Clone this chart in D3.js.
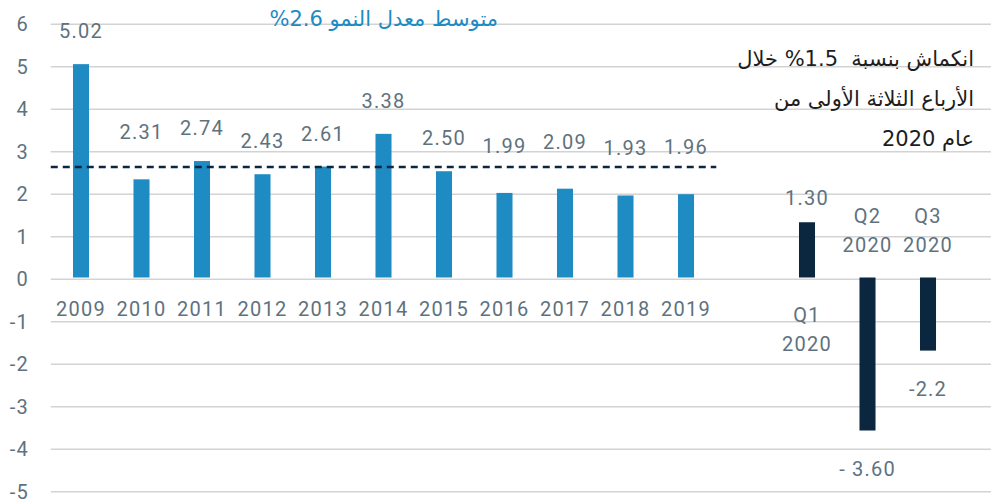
<!DOCTYPE html>
<html>
<head>
<meta charset="utf-8">
<script src="https://cdn.jsdelivr.net/npm/d3@7"></script>
<style>
  body { margin: 0; background: #fff; }
  svg { display: block; }
  .num { font-family: Roboto, sans-serif; font-size: 20px; fill: #5e727e; letter-spacing: 1.2px; }
  .ar { font-family: "DejaVu Sans", sans-serif; direction: rtl; unicode-bidi: embed; white-space: pre; }
</style>
</head>
<body>
<svg id="svg" width="991" height="501"></svg>
<script>
// annual growth 2009-2019
let years = ["2009", "2010", "2011", "2012", "2013", "2014", "2015", "2016", "2017", "2018", "2019"];
let yearValues = [5.02, 2.31, 2.74, 2.43, 2.61, 3.38, 2.50, 1.99, 2.09, 1.93, 1.96];
let yearLabels = ["5.02", "2.31", "2.74", "2.43", "2.61", "3.38", "2.50", "1.99", "2.09", "1.93", "1.96"];

// 2020 quarters
let quarters = ["Q1", "Q2", "Q3"];
let quarterValues = [1.30, -3.60, -1.72];
let quarterLabels = ["1.30", "- 3.60", "-2.2"];

let yTicks = [6, 5, 4, 3, 2, 1, 0, -1, -2, -3, -4, -5];
let average = 2.6;
let avgTitle = "متوسط معدل النمو 2.6%";
let noteLines = ["انكماش بنسبة  1.5% خلال", "الأرباع الثلاثة الأولى من", "عام 2020"];

const blue = "#1e8bc3";
const navy = "#0b2740";

let svg = d3.select("#svg");

// one slot left empty between 2019 and Q1
let slots = years.concat(["gap"], quarters);
let x = d3.scaleBand()
  .domain(slots)
  .range([50.75, 958.25])
  .paddingInner(0.735)
  .paddingOuter(0.3675);

let y = d3.scaleLinear()
  .domain([-5, 6])
  .range([490, 22.5]);

let gridOffset = 1.8;

// gridlines
svg.append("g")
  .selectAll("line")
  .data(yTicks)
  .join("line")
  .attr("x1", 50.75)
  .attr("x2", 991)
  .attr("y1", d => y(d) + gridOffset)
  .attr("y2", d => y(d) + gridOffset)
  .attr("stroke", "#d3d3d3")
  .attr("stroke-width", 1.5);

// y tick labels
svg.append("g")
  .selectAll("text")
  .data(yTicks)
  .join("text")
  .attr("class", "num")
  .attr("x", 29)
  .attr("y", d => y(d) + gridOffset)
  .attr("dy", "0.34em")
  .attr("text-anchor", "end")
  .text(d => d);

// annual bars
let annual = years.map((d, i) => ({ key: d, value: yearValues[i], label: yearLabels[i] }));

svg.append("g")
  .selectAll("rect")
  .data(annual)
  .join("rect")
  .attr("x", d => x(d.key))
  .attr("width", x.bandwidth())
  .attr("y", d => y(d.value))
  .attr("height", d => y(0) - y(d.value))
  .attr("fill", blue);

// labels that would sit on the dashed line are lifted above it
const labelY = function(v) {
  let ly = y(v) - 26;
  if (ly > y(average) - 14) {
    ly = y(v) - 40;
  }
  return ly;
}

svg.append("g")
  .selectAll("text")
  .data(annual)
  .join("text")
  .attr("class", "num")
  .attr("x", d => x(d.key) + x.bandwidth() / 2)
  .attr("y", d => labelY(d.value))
  .attr("text-anchor", "middle")
  .text(d => d.label);

svg.append("g")
  .selectAll("text")
  .data(annual)
  .join("text")
  .attr("class", "num")
  .attr("x", d => x(d.key) + x.bandwidth() / 2)
  .attr("y", y(0) + 38.5)
  .attr("text-anchor", "middle")
  .text(d => d.key);

// average line
svg.append("line")
  .attr("x1", 50.75)
  .attr("x2", x(years[years.length - 1]) + x.bandwidth() / 2 + x.step() / 2)
  .attr("y1", y(average))
  .attr("y2", y(average))
  .attr("stroke", navy)
  .attr("stroke-width", 2.5)
  .attr("stroke-dasharray", "7,5");

// quarterly bars
let qdata = quarters.map((d, i) => ({ key: d, value: quarterValues[i], label: quarterLabels[i] }));

svg.append("g")
  .selectAll("rect")
  .data(qdata)
  .join("rect")
  .attr("x", d => x(d.key))
  .attr("width", x.bandwidth())
  .attr("y", d => y(Math.max(0, d.value)))
  .attr("height", d => Math.abs(y(0) - y(d.value)))
  .attr("fill", navy);

svg.append("g")
  .selectAll("text")
  .data(qdata)
  .join("text")
  .attr("class", "num")
  .attr("x", d => x(d.key) + x.bandwidth() / 2)
  .attr("y", d => d.value > 0 ? y(d.value) - 17 : y(d.value) + 45)
  .attr("text-anchor", "middle")
  .text(d => d.label);

let qcat = svg.append("g")
  .selectAll("text")
  .data(qdata)
  .join("text")
  .attr("class", "num")
  .attr("text-anchor", "middle")
  .attr("y", d => d.value > 0 ? y(0) + 44.5 : y(0) - 54.5);

qcat.append("tspan")
  .attr("x", d => x(d.key) + x.bandwidth() / 2)
  .text(d => d.key);
qcat.append("tspan")
  .attr("x", d => x(d.key) + x.bandwidth() / 2)
  .attr("dy", 28.5)
  .text("2020");

// average title
svg.append("text")
  .attr("class", "ar")
  .attr("x", 498)
  .attr("y", 26)
  .attr("text-anchor", "start")
  .attr("fill", blue)
  .attr("font-size", 21)
  .text(avgTitle);

// note on the right
svg.append("g")
  .selectAll("text")
  .data(noteLines)
  .join("text")
  .attr("class", "ar")
  .attr("x", 974)
  .attr("y", (d, i) => 66 + i * 40)
  .attr("text-anchor", "start")
  .attr("fill", "#1d1d1d")
  .attr("font-size", 21)
  .text(d => d);
</script>
</body>
</html>
